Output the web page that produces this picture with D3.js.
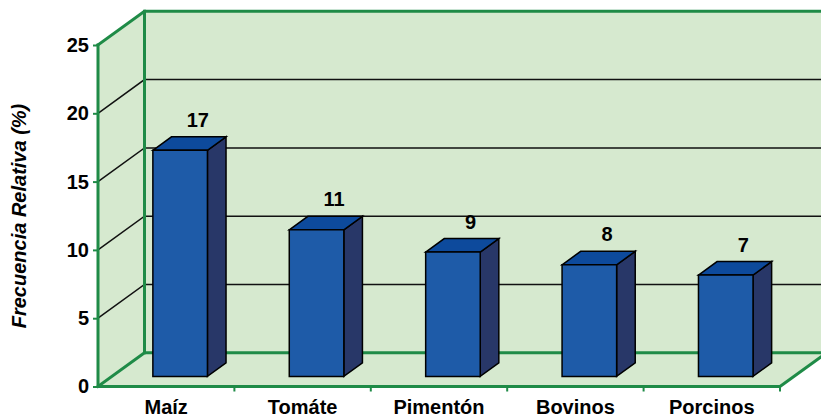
<!DOCTYPE html>
<html>
<head>
<meta charset="utf-8">
<script src="https://cdn.jsdelivr.net/npm/d3@7/dist/d3.min.js"></script>
<style>
  html, body { margin: 0; padding: 0; background: #fff; }
  svg { display: block; }
  text { font-family: "Liberation Sans", Arial, sans-serif; font-weight: bold; fill: #000; }
</style>
</head>
<body>
<svg id="chart" width="821" height="418"></svg>
<script>
const categories = ["Maíz", "Tomáte", "Pimentón", "Bovinos", "Porcinos"];
const values = [16.55, 10.73, 9.1, 8.17, 7.42];
const valueLabels = ["17", "11", "9", "8", "7"];
const yTicks = [0, 5, 10, 15, 20, 25];
const yTitle = "Frecuencia Relativa (%)";

const W = 821, H = 418;
const X0 = 98, X1 = 780;
const DX = 46.5, DY = -33.7;   // depth vector (front -> back wall)
const D0 = 0.3, D1 = 0.7;      // bar depth range
const GREEN = "#1f8b47", WALL = "#d6e9cf";
const FRONT = "#1e5ba8", SIDE = "#283768", TOP = "#0d4a9c";

const svg = d3.select("#chart");
const y = d3.scaleLinear().domain([0, 25]).range([386.5, 45]);
const xCat = d3.scaleBand().domain(categories).range([X0, X1]).padding(0);
const xBar = d3.scaleBand().domain(categories).range([X0, X1]).paddingInner(0.6).paddingOuter(0.3);

const P = (x, v, d) => [x + d * DX, y(v) + d * DY];
const line = d3.line();

// walls and floor
const ymax = 25;
svg.append("path").attr("fill", WALL)
  .attr("d", line([P(X0, 0, 1), P(X0, ymax, 1), P(X1, ymax, 1), P(X1, 0, 1)]) + "Z");
svg.append("path").attr("fill", WALL)
  .attr("d", line([P(X0, 0, 0), P(X0, ymax, 0), P(X0, ymax, 1), P(X0, 0, 1)]) + "Z");
svg.append("path").attr("fill", WALL)
  .attr("d", line([P(X0, 0, 0), P(X1, 0, 0), P(X1, 0, 1), P(X0, 0, 1)]) + "Z");

// gridlines
const grid = svg.append("g").attr("stroke", "#111").attr("stroke-width", 1.5).attr("fill", "none");
yTicks.filter(t => t > 0 && t < 25).forEach(t => {
  grid.append("path").attr("d", line([P(X0, t, 0), P(X0, t, 1), P(X1, t, 1)]));
});

// back green edges
const edges = svg.append("g").attr("stroke", GREEN).attr("stroke-width", 3).attr("fill", "none")
  .attr("stroke-linecap", "square");
edges.append("path").attr("d", line([P(X0, 0, 1), P(X0, ymax, 1)]));
edges.append("path").attr("d", line([P(X0, 0, 0), P(X0, 0, 1), P(X1, 0, 1)]));
edges.append("path").attr("d", line([P(X0, ymax, 0), P(X0, ymax, 1), P(X1, ymax, 1)]));

// bars
const bars = svg.append("g").attr("stroke", "#000").attr("stroke-width", 1.5).attr("stroke-linejoin", "miter");
categories.forEach((c, i) => {
  const v = values[i];
  const xl = xBar(c), xr = xBar(c) + xBar.bandwidth();
  bars.append("path").attr("fill", SIDE)
    .attr("d", line([P(xr, 0, D0), P(xr, v, D0), P(xr, v, D1), P(xr, 0, D1)]) + "Z");
  bars.append("path").attr("fill", TOP)
    .attr("d", line([P(xl, v, D0), P(xl, v, D1), P(xr, v, D1), P(xr, v, D0)]) + "Z");
  bars.append("path").attr("fill", FRONT)
    .attr("d", line([P(xl, 0, D0), P(xl, v, D0), P(xr, v, D0), P(xr, 0, D0)]) + "Z");
  const lp = P(xCat(c) + xCat.bandwidth() / 2 - 1, v, D1);
  svg.append("text").attr("x", lp[0]).attr("y", lp[1] - 10)
    .attr("text-anchor", "middle").attr("font-size", 20).text(valueLabels[i]);
});

// front green edges
const fe = svg.append("g").attr("stroke", GREEN).attr("stroke-width", 3).attr("fill", "none")
  .attr("stroke-linecap", "square");
fe.append("path").attr("d", line([P(X0, ymax, 0), P(X0, 0, 0), P(X1, 0, 0), P(X1, 0, 1)]));

// y axis
const yAxis = svg.append("g").attr("transform", `translate(${X0},0)`)
  .call(d3.axisLeft(y).tickValues(yTicks).tickSize(5).tickPadding(4).tickFormat(d3.format("d")));
yAxis.select(".domain").remove();
yAxis.selectAll(".tick line").attr("stroke", GREEN).attr("stroke-width", 2);
yAxis.selectAll(".tick text").attr("font-size", 20).attr("font-family", null).attr("fill", "#000");

// x axis
const xAxis = svg.append("g").attr("transform", `translate(0,${y(0)})`)
  .call(d3.axisBottom(xCat).tickSize(0).tickPadding(13));
xAxis.select(".domain").remove();
xAxis.selectAll(".tick text").attr("font-size", 20).attr("font-family", null).attr("fill", "#000");
const bounds = categories.map(c => xCat(c)).concat([X1]).slice(1);
svg.append("g").selectAll("line").data(bounds).join("line")
  .attr("x1", d => d).attr("x2", d => d)
  .attr("y1", y(0)).attr("y2", y(0) + 5)
  .attr("stroke", GREEN).attr("stroke-width", 2);

// y title
svg.append("text")
  .attr("transform", "translate(26,216) rotate(-90)")
  .attr("text-anchor", "middle").attr("font-size", 20).attr("font-style", "italic")
  .text(yTitle);
</script>
</body>
</html>
